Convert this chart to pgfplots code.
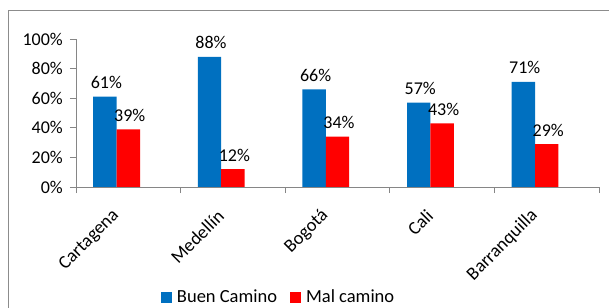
\documentclass[border=0pt]{standalone}
\usepackage{pgfplots}
\pgfplotsset{compat=1.18}
\usepackage{fontspec}
\setmainfont{Carlito}
\definecolor{bblue}{HTML}{0070C0}
\definecolor{rred}{HTML}{FF0000}
\definecolor{axgray}{HTML}{868686}
\definecolor{framegray}{HTML}{8C8C8C}
\begin{document}
\fontsize{18bp}{21bp}\selectfont
\begin{tikzpicture}
\useasboundingbox (0,0) rectangle (609bp,308bp);
\draw[framegray, line width=1bp] (8bp,-5bp) -- (8bp,297bp) -- (615bp,297bp);
\begin{axis}[
  at={(76bp,121bp)}, anchor=south west, scale only axis,
  width=523bp, height=148bp,
  xmin=-0.5, xmax=4.5, ymin=0, ymax=100,
  axis lines*=left,
  axis line style={axgray, line width=0.8bp},
  /pgf/number format/assume math mode=true,
  ytick={0,20,40,60,80,100},
  yticklabel={\pgfmathprintnumber{\tick}\%},
  yticklabel style={anchor=east, inner sep=0pt, xshift=-7bp},
  xtick={0,1,2,3,4},
  xticklabels={Cartagena,Medellín,Bogotá,Cali,Barranquilla},
  xticklabel style={xshift=-12bp, yshift=-20bp, rotate=45, anchor=east, inner sep=0pt, font=\fontsize{18.5bp}{21bp}\selectfont},
  major x tick style={draw=none},
  minor xtick={-0.5,0.5,1.5,2.5,3.5,4.5},
  tick align=outside,
  major tick length=6bp, minor tick length=6bp,
  tick style={axgray, line width=0.8bp},
  ybar, bar width=23.4bp,
  nodes near coords={\pgfmathprintnumber{\pgfplotspointmeta}\%},
  nodes near coords style={anchor=base, inner sep=0pt, yshift=8bp, xshift=1.5bp, text=black},
  legend columns=2,
  legend style={at={(0.1625,-0.7466)}, anchor=west, draw=none, fill=none,
    inner sep=0pt, outer sep=0pt, font=\fontsize{18.5bp}{21bp}\selectfont,
    /tikz/every odd column/.append style={column sep=3bp},
    /tikz/every even column/.append style={column sep=11bp}},
  legend cell align=left,
]
\addplot[fill=bblue, draw=none, bar shift=-23.4bp,
  legend image code/.code={\fill[bblue] (0bp,-5.5bp) rectangle (11bp,5.5bp);}]
  coordinates {(0,61) (1,88) (2,66) (3,57) (4,71)};
\addplot[fill=rred, draw=none, bar shift=0bp,
  legend image code/.code={\fill[rred] (0bp,-5.5bp) rectangle (11bp,5.5bp);}]
  coordinates {(0,39) (1,12) (2,34) (3,43) (4,29)};
\legend{Buen Camino, Mal camino}
\end{axis}
\end{tikzpicture}
\end{document}
